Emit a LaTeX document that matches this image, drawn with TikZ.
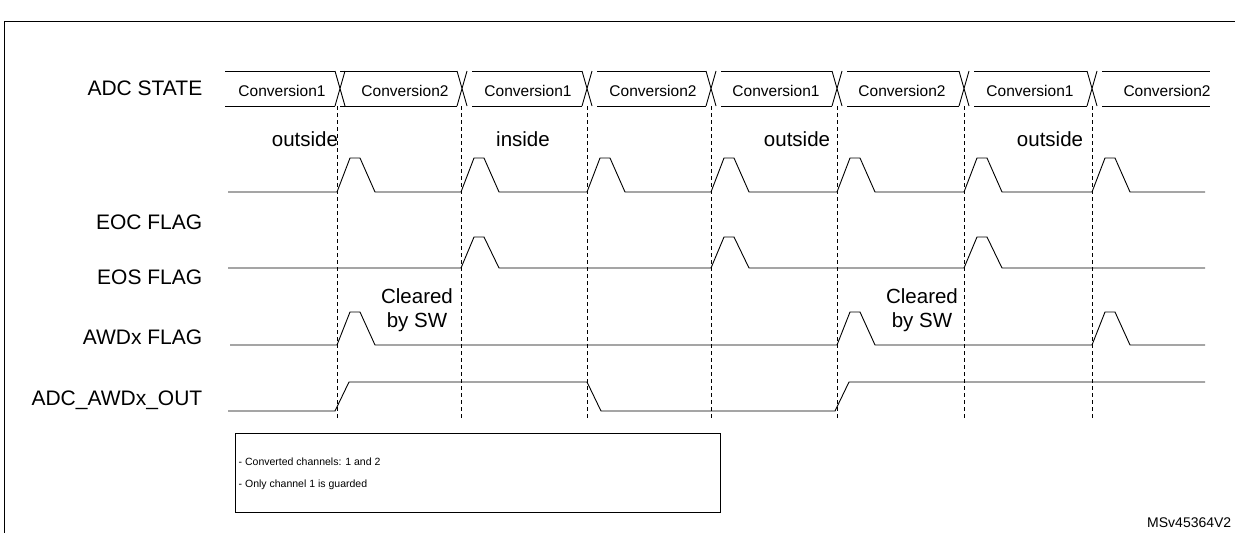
\documentclass[tikz,border=0pt]{standalone}
\usepackage{fontspec}
\setmainfont{Liberation Sans}
\begin{document}
\begin{tikzpicture}[x=1pt,y=-1pt,line width=.8pt,
    sig/.style={line width=.9pt},
    grid/.style={dashed,line width=.7pt,dash pattern=on 4pt off 3pt},
    lbl/.style={anchor=east,font=\fontsize{21}{24}\selectfont},
    conv/.style={font=\fontsize{15.5}{18}\selectfont},
    note/.style={font=\fontsize{20.5}{24}\selectfont}]
      \useasboundingbox (0,0) rectangle (1235,533);
      \draw[line width=1pt] (4,533) -- (4,21) -- (1235,21);

      % signal names
      \node[lbl] (nState) at (206,88) {ADC STATE};
      \node[lbl] (nEoc) at (206,222) {EOC FLAG};
      \node[lbl] (nEos) at (206,277) {EOS FLAG};
      \node[lbl] (nAwd) at (206,337) {AWDx FLAG};
      \node[lbl] (nOut) at (206,400) {ADC\_AWDx\_OUT};

      % ADC STATE bus
      \draw[sig] (225,71) -- (335,71) (225,106) -- (335,106);
      \foreach \a/\b in {335/457,467/582,592/706,716/832,842/959,969/1087,1097/1210}
        \draw[sig] (\a+5,71) -- (\b,71) (\a+5,106) -- (\b,106);
      \foreach \c in {340,462,587,711,837,964,1092}
        \draw[sig] (\c-5,71) -- (\c+5,106) (\c-5,106) -- (\c+5,71);
      \foreach \x/\t in {282/Conversion1,405/Conversion2,528/Conversion1,653/Conversion2,
                         776/Conversion1,902/Conversion2,1030/Conversion1,1167/Conversion2}
        \node[conv] at (\x,91) {\t};

      % sampling edges
      \foreach \d in {337,461,587,711,837,964,1092}
        \draw[grid] (\d,106) -- (\d,420);

      \node[note] (o1) at (305,139) {outside};
      \node[note] (i1) at (523,139) {inside};
      \node[note] (o2) at (797,139) {outside};
      \node[note] (o3) at (1050,139) {outside};

      % EOC FLAG
      \draw[sig] (228,192) -- (337,192)
        \foreach \d/\n in {337/461,461/587,587/711,711/837,837/964,964/1092}
          {-- (\d+13,158) -- (\d+23,158) -- (\d+38,192) -- (\n,192)}
        -- (1105,158) -- (1115,158) -- (1130,192) -- (1205,192);

      % EOS FLAG
      \draw[sig] (228,268) -- (461,268)
        \foreach \d/\n in {461/711,711/964}
          {-- (\d+13,237) -- (\d+23,237) -- (\d+38,268) -- (\n,268)}
        -- (977,237) -- (987,237) -- (1002,268) -- (1205,268);

      % AWDx FLAG
      \draw[sig] (230,345) -- (337,345)
        \foreach \d/\n in {337/837,837/1092}
          {-- (\d+13,312) -- (\d+23,312) -- (\d+38,345) -- (\n,345)}
        -- (1105,312) -- (1115,312) -- (1130,345) -- (1205,345);
      \node[note,align=center] (c1) at (417,310) {Cleared\\by SW};
      \node[note,align=center] (c2) at (922,310) {Cleared\\by SW};

      % ADC_AWDx_OUT
      \draw[sig] (228,411) -- (335,411) -- (349,382) -- (587,382) -- (601,411)
        -- (835,411) -- (849,382) -- (1205,382);

      % legend
      \node[draw,line width=.7pt,minimum width=485pt,minimum height=79pt,anchor=north west]
        (box) at (235,433) {};
      \node[anchor=west,align=left,font=\fontsize{10.5}{22}\selectfont] (txt) at (235,474)
        {- Converted channels: 1 and 2\\- Only channel 1 is guarded};
      \node[anchor=east,font=\fontsize{14}{16}\selectfont] (ref) at (1235,523) {MSv45364V2};
    \end{tikzpicture}
\end{document}
